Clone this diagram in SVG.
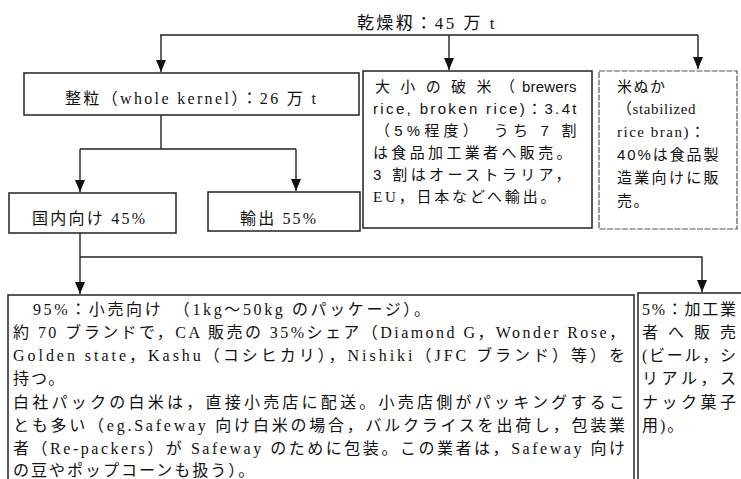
<svg xmlns="http://www.w3.org/2000/svg" width="741" height="479" viewBox="0 0 741 479">
<defs>
<marker id="ah" viewBox="0 0 12 10" refX="12" refY="5" markerWidth="12" markerHeight="10" markerUnits="userSpaceOnUse" orient="auto">
<path d="M0,0 L12,5 L0,10 z" fill="#111"/>
</marker>
<style>
.box{fill:#fff;stroke:#222;stroke-width:1.5}
.dbox{fill:#fff;stroke:#555;stroke-width:1.2;stroke-dasharray:6 1.5}
.ln{fill:none;stroke:#222;stroke-width:1.4}
.arr{fill:none;stroke:#222;stroke-width:1.4;marker-end:url(#ah)}
text{font-family:"Liberation Serif","Noto Sans CJK JP",serif;fill:#111}
.t{font-size:16px;letter-spacing:2px}
.s{font-size:15px;font-family:"Liberation Sans","Noto Sans CJK JP",sans-serif;letter-spacing:1.5px}
.r{font-size:15px;letter-spacing:1.5px}
</style>
</defs>
<g id="title"><text x="427" y="29" text-anchor="middle" style="font-size:17px;letter-spacing:2.5px">乾燥籾：45 万 t</text></g>
<g id="connectors">
<path class="ln" d="M160 35 H698"/>
<path class="arr" d="M161 35 V72"/>
<path class="arr" d="M449 35 V70"/>
<path class="arr" d="M698 35 V69"/>
<path class="ln" d="M161 115 V149 M80 149 H296"/>
<path class="arr" d="M80 149 V192"/>
<path class="arr" d="M296 149 V191"/>
<path class="arr" d="M80 233 V294"/>
<path class="arr" d="M80 257 H702 V292"/>
</g>
<g id="whole">
<rect class="box" x="24" y="73" width="335" height="42"/>
<text class="t" x="65" y="104" textLength="253" lengthAdjust="spacing">整粒（whole kernel）：26 万 t</text>
</g>
<g id="broken">
<rect class="box" x="363" y="71" width="229" height="157"/>
<text class="s" x="375" y="92" textLength="118" lengthAdjust="spacing">大小の破米</text>
<text class="s" x="500" y="92">（</text>
<text class="s" x="522" y="92" textLength="56" lengthAdjust="spacing">brewers</text>
<text class="s" x="373" y="114" textLength="205" lengthAdjust="spacing">rice, broken rice)：3.4t</text>
<text class="s" x="375" y="136" textLength="203" lengthAdjust="spacing">（5%程度）　うち 7 割</text>
<text class="s" x="373" y="158" textLength="200" lengthAdjust="spacing">は食品加工業者へ販売。</text>
<text class="s" x="373" y="180" textLength="199" lengthAdjust="spacing">3 割はオーストラリア，</text>
<text class="r" x="373" y="202" textLength="184" lengthAdjust="spacing">EU，日本などへ輸出。</text>
</g>
<g id="bran">
<rect class="dbox" x="599" y="71" width="138" height="158"/>
<text class="s" x="617" y="92">米ぬか</text>
<text class="r" x="617" y="114" textLength="80" lengthAdjust="spacing">（stabilized</text>
<text class="r" x="617" y="137">rice bran)：</text>
<text class="s" x="617" y="160" textLength="103" lengthAdjust="spacing">40%は食品製</text>
<text class="s" x="617" y="183" textLength="103" lengthAdjust="spacing">造業向けに販</text>
<text class="s" x="617" y="206">売。</text>
</g>
<g id="domestic">
<rect class="box" x="9" y="193" width="167" height="40"/>
<text class="t" x="32" y="224" textLength="115" lengthAdjust="spacing">国内向け 45%</text>
</g>
<g id="export">
<rect class="box" x="208" y="192" width="152" height="39"/>
<text class="t" x="240" y="224" textLength="78" lengthAdjust="spacing">輸出 55%</text>
</g>
<g id="retail">
<rect class="box" x="8" y="295" width="626" height="200"/>
<text class="t" x="33" y="315" textLength="399" lengthAdjust="spacing">95%：小売向け　（1kg～50kg のパッケージ）。</text>
<text class="t" x="13" y="338" textLength="614" lengthAdjust="spacing">約 70 ブランドで，CA 販売の 35%シェア（Diamond G，Wonder Rose，</text>
<text class="t" x="13" y="361" textLength="614" lengthAdjust="spacing">Golden state，Kashu（コシヒカリ），Nishiki（JFC ブランド）等）を</text>
<text class="t" x="13" y="384">持つ。</text>
<text class="t" x="13" y="408" textLength="614" lengthAdjust="spacing">白社パックの白米は，直接小売店に配送。小売店側がパッキングするこ</text>
<text class="t" x="13" y="431" textLength="614" lengthAdjust="spacing">とも多い（eg.Safeway 向け白米の場合，バルクライスを出荷し，包装業</text>
<text class="t" x="13" y="454" textLength="614" lengthAdjust="spacing">者（Re-packers）が Safeway のために包装。この業者は，Safeway 向け</text>
<text class="t" x="13" y="476">の豆やポップコーンも扱う）。</text>
</g>
<g id="processing">
<rect class="box" x="638" y="293" width="110" height="200"/>
<text class="t" x="642" y="315" textLength="96" lengthAdjust="spacing">5%：加工業</text>
<text class="t" x="642" y="338" textLength="96" lengthAdjust="spacing">者へ販売</text>
<text class="t" x="642" y="361" textLength="96" lengthAdjust="spacing">(ビール，シ</text>
<text class="t" x="642" y="384" textLength="96" lengthAdjust="spacing">リアル，ス</text>
<text class="t" x="642" y="408" textLength="96" lengthAdjust="spacing">ナック菓子</text>
<text class="t" x="642" y="431">用)。</text>
</g>
</svg>
